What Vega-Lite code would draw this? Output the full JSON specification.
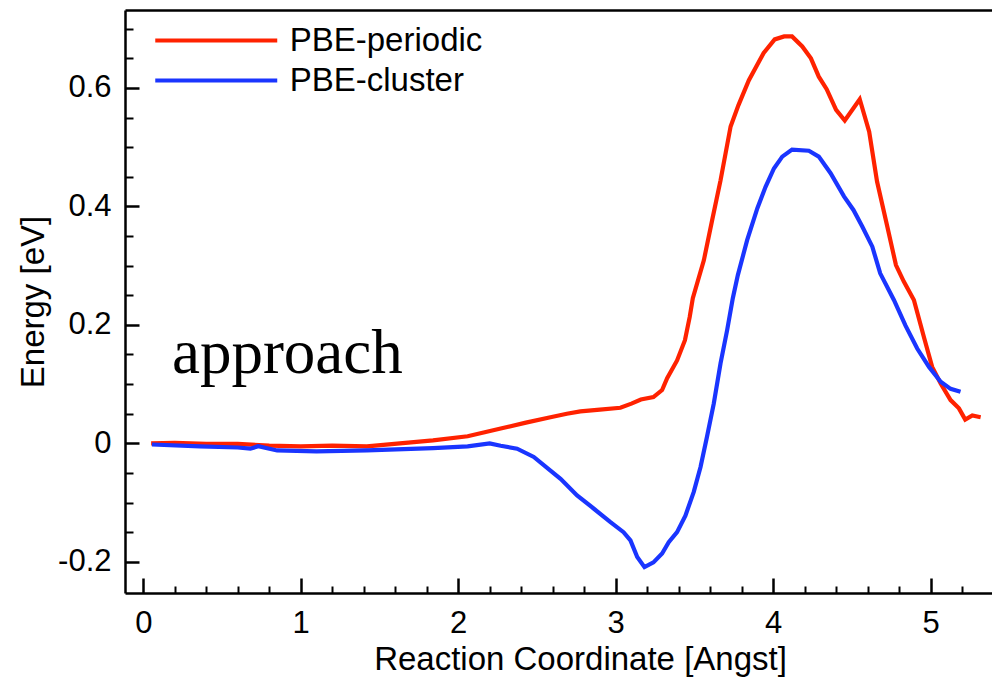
{
  "$schema": "https://vega.github.io/schema/vega-lite/v6.json",
  "autosize": {"type": "none"},
  "width": 867,
  "height": 583,
  "padding": {"left": 125, "top": 10, "right": 0, "bottom": 89},
  "background": "white",
  "config": {
    "view": {"stroke": null},
    "font": "Liberation Sans",
    "axis": {"grid": false, "domainColor": "black", "tickColor": "black", "labelColor": "black", "titleColor": "black", "labelFont": "Liberation Sans", "titleFont": "Liberation Sans", "titleFontWeight": "normal"}
  },
  "datasets": {
    "curves": [
      {"s": "PBE-periodic", "x": 0.05, "y": 0.000},
      {"s": "PBE-periodic", "x": 0.2, "y": 0.001},
      {"s": "PBE-periodic", "x": 0.4, "y": -0.001},
      {"s": "PBE-periodic", "x": 0.6, "y": -0.001},
      {"s": "PBE-periodic", "x": 0.8, "y": -0.004},
      {"s": "PBE-periodic", "x": 1.0, "y": -0.005},
      {"s": "PBE-periodic", "x": 1.2, "y": -0.004},
      {"s": "PBE-periodic", "x": 1.42, "y": -0.005},
      {"s": "PBE-periodic", "x": 1.63, "y": 0.000},
      {"s": "PBE-periodic", "x": 1.84, "y": 0.005},
      {"s": "PBE-periodic", "x": 2.06, "y": 0.012},
      {"s": "PBE-periodic", "x": 2.27, "y": 0.025},
      {"s": "PBE-periodic", "x": 2.43, "y": 0.035},
      {"s": "PBE-periodic", "x": 2.586, "y": 0.044},
      {"s": "PBE-periodic", "x": 2.69, "y": 0.050},
      {"s": "PBE-periodic", "x": 2.776, "y": 0.054},
      {"s": "PBE-periodic", "x": 2.9, "y": 0.057},
      {"s": "PBE-periodic", "x": 3.03, "y": 0.060},
      {"s": "PBE-periodic", "x": 3.1, "y": 0.067},
      {"s": "PBE-periodic", "x": 3.16, "y": 0.074},
      {"s": "PBE-periodic", "x": 3.24, "y": 0.078},
      {"s": "PBE-periodic", "x": 3.295, "y": 0.090},
      {"s": "PBE-periodic", "x": 3.327, "y": 0.110},
      {"s": "PBE-periodic", "x": 3.39, "y": 0.140},
      {"s": "PBE-periodic", "x": 3.44, "y": 0.174},
      {"s": "PBE-periodic", "x": 3.47, "y": 0.213},
      {"s": "PBE-periodic", "x": 3.49, "y": 0.245},
      {"s": "PBE-periodic", "x": 3.56, "y": 0.309},
      {"s": "PBE-periodic", "x": 3.613, "y": 0.377},
      {"s": "PBE-periodic", "x": 3.666, "y": 0.444},
      {"s": "PBE-periodic", "x": 3.73, "y": 0.535},
      {"s": "PBE-periodic", "x": 3.78, "y": 0.571},
      {"s": "PBE-periodic", "x": 3.846, "y": 0.613},
      {"s": "PBE-periodic", "x": 3.94, "y": 0.659},
      {"s": "PBE-periodic", "x": 4.01, "y": 0.682},
      {"s": "PBE-periodic", "x": 4.07, "y": 0.687},
      {"s": "PBE-periodic", "x": 4.12, "y": 0.687},
      {"s": "PBE-periodic", "x": 4.185, "y": 0.670},
      {"s": "PBE-periodic", "x": 4.24, "y": 0.650},
      {"s": "PBE-periodic", "x": 4.29, "y": 0.619},
      {"s": "PBE-periodic", "x": 4.34, "y": 0.598},
      {"s": "PBE-periodic", "x": 4.40, "y": 0.563},
      {"s": "PBE-periodic", "x": 4.455, "y": 0.545},
      {"s": "PBE-periodic", "x": 4.55, "y": 0.581},
      {"s": "PBE-periodic", "x": 4.61, "y": 0.526},
      {"s": "PBE-periodic", "x": 4.66, "y": 0.442},
      {"s": "PBE-periodic", "x": 4.725, "y": 0.366},
      {"s": "PBE-periodic", "x": 4.78, "y": 0.301},
      {"s": "PBE-periodic", "x": 4.83, "y": 0.273},
      {"s": "PBE-periodic", "x": 4.894, "y": 0.242},
      {"s": "PBE-periodic", "x": 4.957, "y": 0.180},
      {"s": "PBE-periodic", "x": 5.01, "y": 0.129},
      {"s": "PBE-periodic", "x": 5.064, "y": 0.101},
      {"s": "PBE-periodic", "x": 5.127, "y": 0.073},
      {"s": "PBE-periodic", "x": 5.18, "y": 0.059},
      {"s": "PBE-periodic", "x": 5.22, "y": 0.040},
      {"s": "PBE-periodic", "x": 5.265, "y": 0.047},
      {"s": "PBE-periodic", "x": 5.318, "y": 0.044},
      {"s": "PBE-cluster", "x": 0.055, "y": -0.002},
      {"s": "PBE-cluster", "x": 0.36, "y": -0.005},
      {"s": "PBE-cluster", "x": 0.6, "y": -0.007},
      {"s": "PBE-cluster", "x": 0.68, "y": -0.009},
      {"s": "PBE-cluster", "x": 0.73, "y": -0.005},
      {"s": "PBE-cluster", "x": 0.85, "y": -0.012},
      {"s": "PBE-cluster", "x": 1.1, "y": -0.0135},
      {"s": "PBE-cluster", "x": 1.42, "y": -0.012},
      {"s": "PBE-cluster", "x": 1.84, "y": -0.008},
      {"s": "PBE-cluster", "x": 2.06, "y": -0.005},
      {"s": "PBE-cluster", "x": 2.2, "y": 0.000},
      {"s": "PBE-cluster", "x": 2.27, "y": -0.004},
      {"s": "PBE-cluster", "x": 2.374, "y": -0.009},
      {"s": "PBE-cluster", "x": 2.48, "y": -0.023},
      {"s": "PBE-cluster", "x": 2.586, "y": -0.046},
      {"s": "PBE-cluster", "x": 2.65, "y": -0.060},
      {"s": "PBE-cluster", "x": 2.755, "y": -0.088},
      {"s": "PBE-cluster", "x": 2.86, "y": -0.110},
      {"s": "PBE-cluster", "x": 2.967, "y": -0.133},
      {"s": "PBE-cluster", "x": 3.05, "y": -0.150},
      {"s": "PBE-cluster", "x": 3.094, "y": -0.164},
      {"s": "PBE-cluster", "x": 3.137, "y": -0.192},
      {"s": "PBE-cluster", "x": 3.183, "y": -0.209},
      {"s": "PBE-cluster", "x": 3.24, "y": -0.201},
      {"s": "PBE-cluster", "x": 3.295, "y": -0.186},
      {"s": "PBE-cluster", "x": 3.337, "y": -0.167},
      {"s": "PBE-cluster", "x": 3.39, "y": -0.150},
      {"s": "PBE-cluster", "x": 3.443, "y": -0.122},
      {"s": "PBE-cluster", "x": 3.496, "y": -0.082},
      {"s": "PBE-cluster", "x": 3.539, "y": -0.040},
      {"s": "PBE-cluster", "x": 3.58, "y": 0.011},
      {"s": "PBE-cluster", "x": 3.623, "y": 0.067},
      {"s": "PBE-cluster", "x": 3.666, "y": 0.135},
      {"s": "PBE-cluster", "x": 3.708, "y": 0.191},
      {"s": "PBE-cluster", "x": 3.744, "y": 0.245},
      {"s": "PBE-cluster", "x": 3.776, "y": 0.284},
      {"s": "PBE-cluster", "x": 3.835, "y": 0.343},
      {"s": "PBE-cluster", "x": 3.90, "y": 0.397},
      {"s": "PBE-cluster", "x": 3.952, "y": 0.433},
      {"s": "PBE-cluster", "x": 4.005, "y": 0.464},
      {"s": "PBE-cluster", "x": 4.058, "y": 0.484},
      {"s": "PBE-cluster", "x": 4.12, "y": 0.496},
      {"s": "PBE-cluster", "x": 4.227, "y": 0.494},
      {"s": "PBE-cluster", "x": 4.29, "y": 0.484},
      {"s": "PBE-cluster", "x": 4.365, "y": 0.456},
      {"s": "PBE-cluster", "x": 4.45, "y": 0.417},
      {"s": "PBE-cluster", "x": 4.51, "y": 0.394},
      {"s": "PBE-cluster", "x": 4.566, "y": 0.366},
      {"s": "PBE-cluster", "x": 4.63, "y": 0.332},
      {"s": "PBE-cluster", "x": 4.68, "y": 0.287},
      {"s": "PBE-cluster", "x": 4.767, "y": 0.242},
      {"s": "PBE-cluster", "x": 4.84, "y": 0.199},
      {"s": "PBE-cluster", "x": 4.915, "y": 0.160},
      {"s": "PBE-cluster", "x": 4.99, "y": 0.129},
      {"s": "PBE-cluster", "x": 5.064, "y": 0.104},
      {"s": "PBE-cluster", "x": 5.127, "y": 0.092},
      {"s": "PBE-cluster", "x": 5.19, "y": 0.087}
    ],
    "notes": [
      {"x": 0.182, "y": 0.1187, "label": "approach"}
    ]
  },
  "resolve": {"axis": {"x": "independent", "y": "independent"}},
  "layer": [
    {
      "data": {"name": "curves"},
      "mark": {"type": "line", "strokeWidth": 4.2, "clip": true},
      "encoding": {
        "x": {
          "field": "x", "type": "quantitative",
          "scale": {"domain": [-0.116, 5.39], "nice": false, "zero": false},
          "axis": {
            "orient": "bottom", "values": [0, 1, 2, 3, 4, 5], "format": "d",
            "tickSize": -15, "tickWidth": 2.5, "domainWidth": 2.5,
            "labelFontSize": 31, "labelPadding": 54, "labelBaseline": "alphabetic",
            "title": "Reaction Coordinate [Angst]", "titleFontSize": 33,
            "titleX": 455, "titleY": 76, "titleBaseline": "alphabetic", "titleAlign": "center", "titleAnchor": null
          }
        },
        "y": {
          "field": "y", "type": "quantitative",
          "scale": {"domain": [-0.2527, 0.7316], "nice": false, "zero": false},
          "axis": {
            "orient": "left", "values": [-0.2, 0, 0.2, 0.4, 0.6],
            "labelExpr": "datum.value == 0 ? '0' : replace(datum.label, '\u2212', '-')",
            "tickSize": -14, "tickWidth": 2.5, "domainWidth": 2.5,
            "labelFontSize": 31, "labelPadding": 28, "labelBaseline": "middle",
            "title": "Energy [eV]", "titleFontSize": 33, "titleAngle": -90,
            "titleX": -82, "titleY": 291.5, "titleBaseline": "alphabetic", "titleAlign": "center"
          }
        },
        "color": {
          "field": "s", "type": "nominal",
          "scale": {"domain": ["PBE-periodic", "PBE-cluster"], "range": ["#ff2200", "#1a35ff"]},
          "legend": {
            "title": null, "orient": "none", "legendX": 73.75, "legendY": 13,
            "padding": 0, "symbolType": "M-4,0H4", "symbolSize": 930, "symbolStrokeWidth": 4,
            "labelFontSize": 33, "labelFont": "Liberation Sans", "labelColor": "black", "labelLimit": 0,
            "labelOffset": 56, "rowPadding": 5, "symbolOpacity": 1
          }
        }
      }
    },
    {
      "data": {"name": "curves"},
      "mark": {"type": "line", "opacity": 0},
      "encoding": {
        "x": {
          "field": "x", "type": "quantitative",
          "axis": {
            "orient": "bottom", "domain": false, "labels": false, "title": null,
            "values": [0.2, 0.4, 0.6, 0.8, 1.2, 1.4, 1.6, 1.8, 2.2, 2.4, 2.6, 2.8, 3.2, 3.4, 3.6, 3.8, 4.2, 4.4, 4.6, 4.8, 5.2],
            "tickSize": -7, "tickWidth": 2
          }
        },
        "y": {
          "field": "y", "type": "quantitative",
          "axis": {
            "orient": "left", "domain": false, "labels": false, "title": null,
            "values": [-0.15, -0.1, -0.05, 0.05, 0.1, 0.15, 0.25, 0.3, 0.35, 0.45, 0.5, 0.55, 0.65, 0.7],
            "tickSize": -8, "tickWidth": 2
          }
        }
      }
    },
    {
      "data": {"name": "notes"},
      "mark": {"type": "text", "font": "Liberation Serif", "fontSize": 63, "align": "left", "baseline": "alphabetic", "color": "black"},
      "encoding": {
        "x": {
          "field": "x", "type": "quantitative",
          "axis": {"orient": "top", "domain": true, "domainWidth": 2.5, "ticks": false, "labels": false, "title": null}
        },
        "y": {"field": "y", "type": "quantitative", "axis": null},
        "text": {"field": "label"}
      }
    }
  ]
}
